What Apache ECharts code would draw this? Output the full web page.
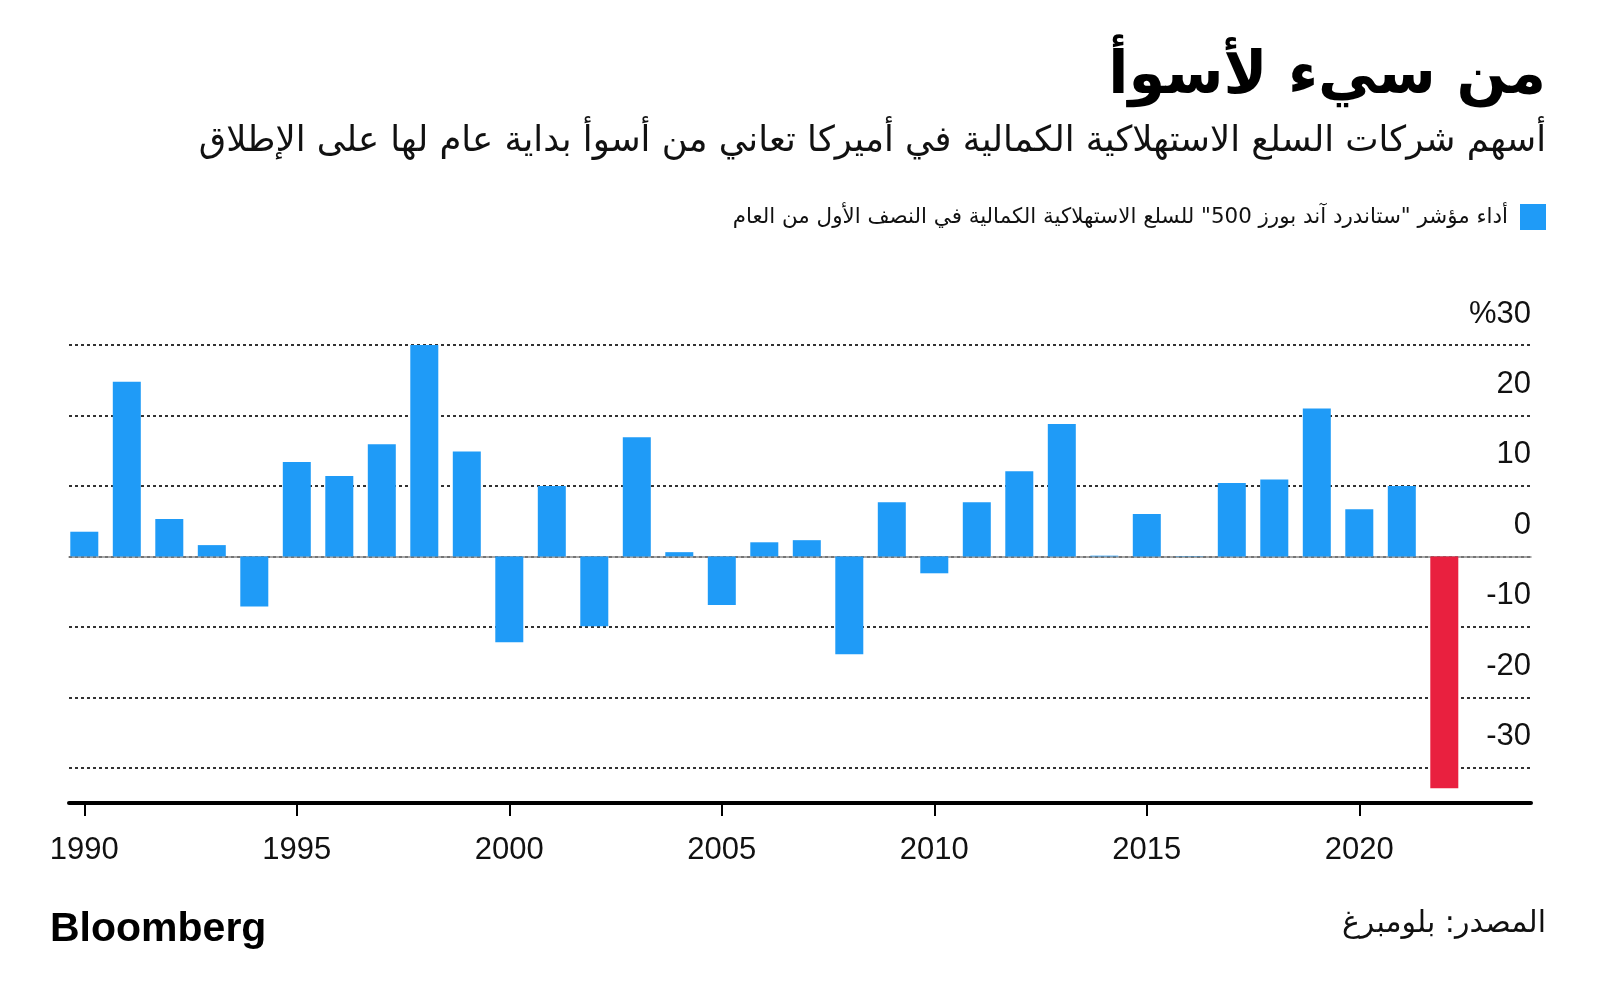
<!DOCTYPE html>
<html>
<head>
<meta charset="utf-8">
<script src="https://cdn.jsdelivr.net/npm/echarts@6/dist/echarts.min.js"></script>
<style>
html,body{margin:0;padding:0;background:#fff;}
#chart{width:1600px;height:1005px;}
</style>
</head>
<body>
<div id="chart"></div>
<script>
// ---- data ----
const years = [1990,1991,1992,1993,1994,1995,1996,1997,1998,1999,2000,2001,2002,2003,2004,2005,2006,2007,2008,2009,2010,2011,2012,2013,2014,2015,2016,2017,2018,2019,2020,2021,2022];
const values = [3.5,24.8,5.3,1.6,-7.1,13.4,11.4,15.9,30.0,14.9,-12.2,10.0,-9.9,16.9,0.6,-6.9,2.0,2.3,-13.9,7.7,-2.4,7.7,12.1,18.8,0.1,6.0,0.05,10.4,10.9,21.0,6.7,10.0,-32.9];
const highlightYear = 2022;
const xTickYears = [1990,1995,2000,2005,2010,2015,2020];
const yTickValues = [-30,-20,-10,0,10,20,30];
const yTickLabels = ['-30','-20','-10','0','10','20','%30'];
const seriesName = 'أداء مؤشر "ستاندرد آند بورز 500" للسلع الاستهلاكية الكمالية في النصف الأول من العام';
const titleText = 'من سيء لأسوأ';
const subtitleText = 'أسهم شركات السلع الاستهلاكية الكمالية في أميركا تعاني من أسوأ بداية عام لها على الإطلاق';
const sourceText = 'المصدر: بلومبرغ';

const BLUE = '#1f9bf7';
const RED = '#e9203f';
const AR = '"DejaVu Sans", sans-serif';
const LAT = '"Liberation Sans", Arial, sans-serif';

const chart = echarts.init(document.getElementById('chart'), null, {renderer: 'canvas'});

const option = {
  animation: false,
  backgroundColor: '#fff',
  grid: {left: 69, right: 69, top: 345, bottom: 202, containLabel: false},
  legend: {
    data: [seriesName],
    right: 49, top: 199,
    align: 'right',
    icon: 'rect',
    itemWidth: 26, itemHeight: 26,
    textStyle: {fontSize: 21.4, fontFamily: AR, color: '#111', padding: [0, 7, 0, 0]}
  },
  xAxis: [{
    type: 'value',
    min: 1989.64, max: 2024.04,
    position: 'bottom',
    axisLine: {onZero: false, lineStyle: {color: '#000', width: 4}},
    axisTick: {show: true, length: 13, lineStyle: {color: '#000', width: 2}, customValues: xTickYears},
    axisLabel: {customValues: xTickYears, fontSize: 31, fontFamily: LAT, color: '#111', margin: 32, formatter: v => String(v)},
    splitLine: {show: false}
  }, {
    type: 'value',
    min: 1989.64, max: 2024.04,
    position: 'top',
    axisLine: {show: true, onZero: true, lineStyle: {color: '#8a8a8a', width: 1.5}},
    axisTick: {show: false},
    axisLabel: {show: false},
    splitLine: {show: false}
  }],
  yAxis: {
    type: 'value',
    position: 'right',
    min: -35, max: 30, interval: 5,
    axisLine: {show: false},
    axisTick: {show: false},
    axisLabel: {
      inside: true, margin: 0,
      fontSize: 31, fontFamily: LAT, color: '#111',
      verticalAlign: 'bottom',
      lineHeight: 62,
      formatter: function (v) {
        const k = yTickValues.indexOf(v);
        return k >= 0 ? yTickLabels[k] : '';
      }
    },
    splitLine: {show: true, lineStyle: {color: ['rgba(0,0,0,0)', '#000'], type: [3, 3], width: 1.6}}
  },
  series: [{
    name: seriesName,
    type: 'bar',
    xAxisIndex: 0,
    barWidth: 28,
    itemStyle: {color: BLUE},
    data: years.map((y, i) => ({
      value: [y, values[i]],
      itemStyle: y === highlightYear ? {color: RED} : undefined
    }))
  }],
  graphic: [
    {type: 'text', right: 54, top: 48, style: {text: titleText, font: 'bold 59px ' + AR, fill: '#000'}},
    {type: 'text', right: 54, top: 124, style: {text: subtitleText, font: '35.4px ' + AR, fill: '#111'}},
    {type: 'text', left: 50, top: 909, style: {text: 'Bloomberg', font: 'bold 41px ' + LAT, fill: '#000'}},
    {type: 'text', right: 54, top: 909, style: {text: sourceText, font: '30px ' + AR, fill: '#111'}}
  ]
};
chart.setOption(option);
</script>
</body>
</html>
